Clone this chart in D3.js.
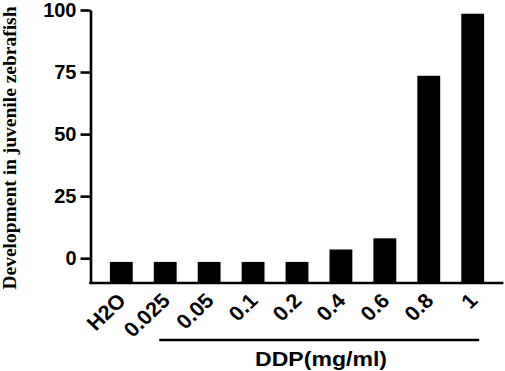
<!DOCTYPE html>
<html>
<head>
<meta charset="utf-8">
<script src="https://cdn.jsdelivr.net/npm/d3@7"></script>
<style>
  body { margin: 0; background: #fff; }
  svg text { font-family: "Liberation Sans", Arial, sans-serif; font-weight: bold; fill: #000; }
</style>
</head>
<body>
<div id="chart"></div>
<script>
var categories = ["H2O", "0.025", "0.05", "0.1", "0.2", "0.4", "0.6", "0.8", "1"];
var values = [-1.5, -1.5, -1.5, -1.5, -1.5, 3.5, 8, 73.5, 98.5];
var yTicks = [0, 25, 50, 75, 100];
var yLabel = "Development in juvenile zebrafish";
var xLabel = "DDP(mg/ml)";

function drawBarChart() {
    var W = 505, H = 371;
    var svg = d3.select("#chart").append("svg")
        .attr("width", W)
        .attr("height", H);

    var x = d3.scalePoint()
        .domain(categories)
        .range([121.3, 472.7]);
    var barW = x.step() * 0.52;

    var y = d3.scaleLinear()
        .domain([-10, 100])
        .range([283, 10]);

    var axisX = 90.5;

    // bars, drawn up from the bottom of the axis
    svg.selectAll("rect.bar")
        .data(values)
        .enter().append("rect")
        .attr("class", "bar")
        .attr("x", function(d, i) { return x(categories[i]) - barW / 2; })
        .attr("y", function(d) { return y(d); })
        .attr("width", barW)
        .attr("height", function(d) { return y(-10) - y(d); })
        .attr("fill", "#000");

    // y axis
    var gy = svg.append("g")
        .attr("transform", "translate(" + axisX + ",0)")
        .call(d3.axisLeft(y).tickValues(yTicks).tickSize(10).tickSizeOuter(0).tickPadding(4));
    gy.select(".domain").attr("stroke", "#000").attr("stroke-width", 2.6);
    gy.selectAll(".tick line").attr("stroke", "#000").attr("stroke-width", 2.6);
    gy.selectAll(".tick text")
        .style("font-size", "20px")
        .style("font-family", "'Liberation Sans', Arial, sans-serif")
        .style("font-weight", "bold")
        .attr("fill", "#000");

    // x axis line
    svg.append("line")
        .attr("x1", axisX - 1.3)
        .attr("x2", x(categories[categories.length - 1]) + x.step() * 0.7)
        .attr("y1", y(-10))
        .attr("y2", y(-10))
        .attr("stroke", "#000")
        .attr("stroke-width", 2.6);

    // rotated category labels
    svg.selectAll("text.xtick")
        .data(categories)
        .enter().append("text")
        .attr("class", "xtick")
        .attr("text-anchor", "end")
        .attr("transform", function(d) {
            return "translate(" + (x(d) + 6) + "," + 302 + ") scale(1.06,1) rotate(-45)";
        })
        .style("font-size", "20.5px")
        .text(function(d) { return d; });

    // bracket line under the DDP doses
    svg.append("line")
        .attr("x1", x("0.025") - 6)
        .attr("x2", x("1") + 6.5)
        .attr("y1", 340)
        .attr("y2", 340)
        .attr("stroke", "#000")
        .attr("stroke-width", 2.6);

    svg.append("text")
        .attr("x", 255)
        .attr("y", 365.5)
        .attr("textLength", 132)
        .attr("lengthAdjust", "spacingAndGlyphs")
        .style("font-size", "19.5px")
        .text(xLabel);

    svg.append("text")
        .attr("transform", "translate(15.5,148) rotate(-90)")
        .attr("text-anchor", "middle")
        .attr("textLength", 283)
        .attr("lengthAdjust", "spacingAndGlyphs")
        .style("font-family", "'Liberation Serif', 'Times New Roman', serif")
        .style("font-size", "19px")
        .text(yLabel);
}

drawBarChart();
</script>
</body>
</html>
